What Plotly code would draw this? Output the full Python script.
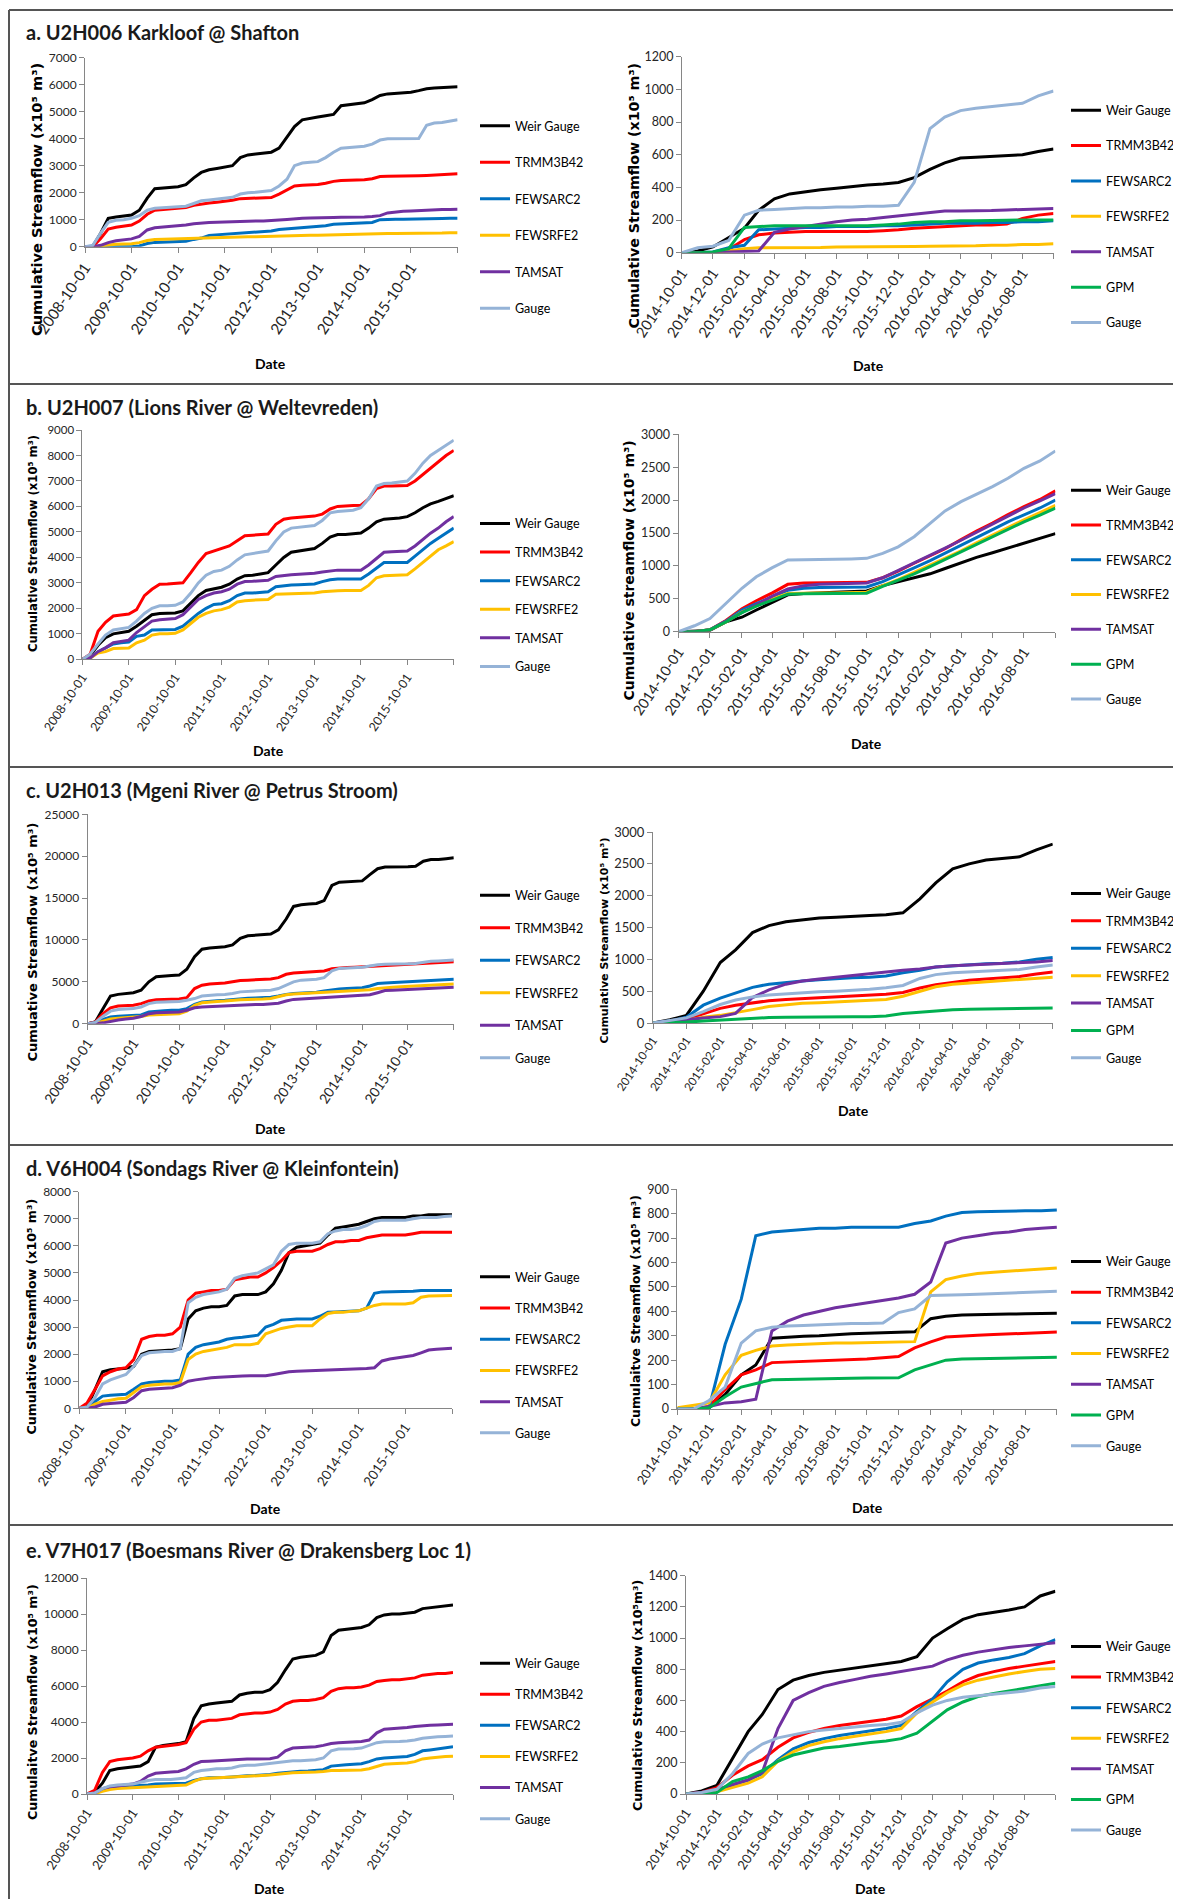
import plotly.graph_objects as go
import pandas as pd

W, H = 1181, 1899
OFF = 8  # the page body adds an 8 px margin; figure coordinates are shifted by it
FW, FH = W - OFF, H - OFF

# ---------------- categories ----------------
DATES_L = list(pd.date_range("2008-10-01", "2016-10-01", freq="2MS").strftime("%Y-%m-%d"))
DATES_R = list(pd.date_range("2014-10-01", "2016-10-01", freq="MS").strftime("%Y-%m-%d"))
X_END = "2016-10-01"

XT_L = ["2008-10-01", "2009-10-01", "2010-10-01", "2011-10-01", "2012-10-01",
        "2013-10-01", "2014-10-01", "2015-10-01"]
XT_R = ["2014-10-01", "2014-12-01", "2015-02-01", "2015-04-01", "2015-06-01", "2015-08-01",
        "2015-10-01", "2015-12-01", "2016-02-01", "2016-04-01", "2016-06-01", "2016-08-01"]

COLORS = {"Weir Gauge": "#000000", "TRMM3B42": "#FF0000", "FEWSARC2": "#0070C0",
          "FEWSRFE2": "#FFC000", "TAMSAT": "#7030A0", "GPM": "#00B050", "Gauge": "#95B3D7"}

# ---------------- a. U2H006 ----------------
A_L_WEIR = [0, 20, 500, 1050, 1100, 1130, 1170, 1350, 1800, 2150, 2180, 2200, 2220, 2300, 2550, 2750, 2850, 2900,
            2950, 3000, 3300, 3400, 3430, 3460, 3500, 3650, 4050, 4450, 4700, 4760, 4800, 4850, 4900, 5220, 5260, 5300,
            5330, 5450, 5600, 5660, 5680, 5700, 5720, 5780, 5850, 5880, 5890, 5900, 5920]
A_L_TRMM = [0, 0, 300, 650, 720, 760, 800, 950, 1200, 1350, 1380, 1400, 1420, 1450, 1530, 1580, 1620, 1650,
            1680, 1720, 1780, 1790, 1790, 1800, 1820, 1950, 2100, 2250, 2280, 2290, 2300, 2350, 2420, 2450, 2460, 2470,
            2480, 2520, 2600, 2610, 2610, 2610, 2620, 2630, 2640, 2660, 2670, 2690, 2700]
A_L_ARC2 = [0, 0, 0, 0, 0, 0, 0, 30, 120, 160, 170, 180, 190, 200, 270, 320, 420, 440,
            460, 480, 520, 540, 550, 560, 580, 640, 660, 700, 720, 730, 740, 780, 830, 840, 850, 860,
            870, 900, 1000, 1020, 1020, 1020, 1020, 1030, 1030, 1040, 1040, 1050, 1050]
A_L_RFE2 = [0, 0, 30, 70, 90, 100, 110, 150, 230, 270, 280, 290, 300, 310, 320, 330, 330, 340,
            340, 350, 360, 370, 370, 380, 380, 390, 410, 420, 420, 420, 420, 430, 440, 450, 450, 450,
            460, 470, 480, 490, 490, 490, 490, 500, 500, 510, 510, 520, 520]
A_L_TAMSAT = [0, 0, 50, 150, 220, 260, 290, 380, 620, 700, 720, 740, 760, 800, 850, 880, 900, 910,
              920, 930, 950, 950, 950, 950, 960, 990, 1010, 1040, 1050, 1060, 1060, 1070, 1080, 1090, 1090, 1100,
              1100, 1120, 1150, 1250, 1290, 1310, 1320, 1340, 1360, 1370, 1380, 1380, 1390]
A_L_GAUGE = [0, 50, 500, 900, 980, 1000, 1050, 1150, 1350, 1420, 1440, 1460, 1480, 1500, 1600, 1700, 1730, 1760,
             1780, 1830, 1950, 2000, 2020, 2040, 2080, 2250, 2500, 3000, 3100, 3130, 3150, 3300, 3500, 3650, 3680, 3700,
             3720, 3800, 3950, 4000, 4000, 4000, 4000, 4010, 4500, 4580, 4600, 4650, 4700]

A_R_WEIR = [0, 10, 35, 90, 150, 260, 330, 360, 375, 385, 395, 405, 415, 420, 430, 460, 510, 550,
            580, 585, 590, 595, 600, 620, 635]
A_R_TRMM = [0, 0, 0, 20, 80, 110, 120, 125, 130, 130, 130, 130, 130, 135, 140, 150, 155, 160,
            165, 170, 170, 175, 210, 230, 240]
A_R_ARC2 = [0, 0, 5, 30, 45, 140, 145, 150, 155, 155, 160, 160, 160, 165, 165, 170, 175, 180,
            180, 180, 185, 185, 190, 190, 195]
A_R_RFE2 = [0, 0, 0, 10, 25, 30, 30, 30, 30, 32, 35, 35, 35, 35, 35, 38, 40, 40,
            42, 42, 45, 45, 50, 50, 55]
A_R_TAMSAT = [0, 0, 0, 5, 8, 10, 125, 145, 160, 175, 190, 200, 205, 215, 225, 235, 245, 255,
              255, 255, 258, 262, 265, 268, 270]
A_R_GPM = [0, 0, 5, 25, 155, 160, 165, 165, 165, 165, 165, 165, 165, 170, 175, 185, 190, 190,
           195, 195, 195, 198, 200, 200, 200]
A_R_GAUGE = [0, 30, 40, 75, 230, 260, 265, 270, 275, 275, 280, 280, 285, 285, 290, 430, 760, 830,
             870, 885, 895, 905, 915, 960, 990]

# ---------------- b. U2H007 ----------------
B_L_WEIR = [0, 150, 550, 850, 1000, 1050, 1100, 1300, 1550, 1750, 1800, 1800, 1820, 1900, 2200, 2500, 2700, 2780,
            2830, 2950, 3150, 3280, 3300, 3350, 3400, 3700, 4000, 4200, 4250, 4300, 4350, 4550, 4800, 4900, 4900, 4930,
            4960, 5150, 5400, 5500, 5520, 5550, 5600, 5750, 5950, 6100, 6200, 6320, 6420]
B_L_TRMM = [0, 200, 1100, 1450, 1700, 1750, 1780, 1950, 2500, 2750, 2950, 2960, 2970, 3000, 3400, 3800, 4150, 4250,
            4350, 4450, 4650, 4850, 4870, 4900, 4920, 5300, 5500, 5550, 5580, 5600, 5620, 5700, 5900, 6000, 6030, 6040,
            6050, 6300, 6700, 6800, 6800, 6800, 6820, 7000, 7250, 7500, 7750, 8000, 8200]
B_L_ARC2 = [0, 50, 300, 450, 600, 650, 680, 900, 950, 1150, 1150, 1150, 1170, 1300, 1550, 1800, 2000, 2150,
            2180, 2300, 2500, 2600, 2600, 2620, 2650, 2850, 2900, 2920, 2930, 2940, 2960, 3050, 3120, 3150, 3150, 3150,
            3150, 3350, 3600, 3800, 3800, 3800, 3800, 4050, 4300, 4550, 4750, 4950, 5150]
B_L_RFE2 = [0, 50, 250, 300, 420, 430, 440, 650, 750, 950, 1000, 1000, 1020, 1150, 1400, 1650, 1800, 1900,
            1950, 2050, 2250, 2300, 2320, 2330, 2350, 2550, 2560, 2570, 2580, 2590, 2600, 2650, 2680, 2690, 2700, 2700,
            2700, 2900, 3200, 3280, 3300, 3300, 3320, 3550, 3800, 4050, 4300, 4450, 4620]
B_L_TAMSAT = [0, 50, 300, 450, 650, 700, 750, 1050, 1300, 1500, 1550, 1580, 1600, 1750, 2050, 2350, 2500, 2600,
              2650, 2750, 2950, 3050, 3060, 3080, 3100, 3250, 3300, 3320, 3340, 3350, 3380, 3430, 3480, 3500, 3500, 3500,
              3500, 3700, 3950, 4200, 4220, 4230, 4250, 4450, 4700, 4950, 5150, 5400, 5600]
B_L_GAUGE = [0, 200, 600, 950, 1150, 1200, 1250, 1500, 1800, 2000, 2100, 2100, 2120, 2250, 2600, 3000, 3300, 3450,
             3500, 3650, 3900, 4100, 4150, 4180, 4250, 4650, 5000, 5150, 5180, 5200, 5250, 5450, 5750, 5800, 5820, 5850,
             5950, 6300, 6800, 6900, 6920, 6950, 7000, 7300, 7700, 8000, 8200, 8400, 8600]

B_R_WEIR = [0, 10, 20, 150, 220, 330, 450, 560, 580, 590, 600, 610, 620, 700, 760, 820, 880, 960,
            1050, 1130, 1200, 1270, 1350, 1420, 1490]
B_R_TRMM = [0, 0, 30, 170, 350, 470, 590, 720, 740, 740, 745, 750, 750, 820, 920, 1040, 1160, 1260,
            1400, 1530, 1650, 1780, 1900, 2010, 2140]
B_R_ARC2 = [0, 0, 30, 160, 330, 430, 530, 630, 660, 670, 670, 675, 680, 760, 860, 970, 1080, 1190,
            1310, 1430, 1550, 1670, 1780, 1880, 2000]
B_R_RFE2 = [0, 0, 30, 150, 300, 400, 500, 580, 590, 590, 590, 595, 600, 700, 790, 900, 1010, 1120,
            1230, 1350, 1470, 1590, 1700, 1810, 1920]
B_R_TAMSAT = [0, 0, 30, 160, 300, 420, 540, 650, 700, 720, 730, 735, 740, 820, 930, 1050, 1160, 1270,
              1390, 1510, 1630, 1760, 1880, 1990, 2100]
B_R_GPM = [0, 0, 30, 150, 290, 390, 480, 570, 575, 575, 575, 580, 585, 690, 780, 880, 990, 1100,
           1210, 1330, 1440, 1560, 1670, 1770, 1880]
B_R_GAUGE = [0, 90, 200, 430, 660, 835, 973, 1090, 1090, 1095, 1100, 1105, 1115, 1190, 1290, 1444, 1647, 1835,
             1977, 2088, 2205, 2331, 2483, 2595, 2747]

# ---------------- c. U2H013 ----------------
C_L_WEIR = [0, 200, 1800, 3300, 3500, 3600, 3700, 4000, 5000, 5600, 5700, 5750, 5800, 6500, 8000, 8900, 9050, 9150,
            9200, 9400, 10200, 10500, 10550, 10600, 10700, 11200, 12500, 14000, 14200, 14300, 14350, 14700, 16500,
            16900, 16950, 17000, 17050, 17800, 18500, 18700, 18700, 18750, 18750, 18800, 19400, 19600, 19600, 19700,
            19800]
C_L_TRMM = [0, 200, 1200, 1900, 2100, 2150, 2200, 2400, 2700, 2850, 2900, 2950, 2950, 3100, 4200, 4600, 4750, 4800,
            4850, 5000, 5150, 5200, 5250, 5300, 5350, 5500, 5900, 6050, 6100, 6150, 6200, 6300, 6550, 6650, 6700, 6750,
            6800, 6850, 6950, 7000, 7000, 7050, 7100, 7150, 7200, 7250, 7300, 7350, 7400]
C_L_ARC2 = [0, 100, 500, 800, 900, 950, 1000, 1050, 1400, 1500, 1550, 1600, 1600, 1800, 2300, 2600, 2700, 2750,
            2800, 2900, 3000, 3050, 3080, 3100, 3150, 3300, 3500, 3600, 3650, 3700, 3750, 3900, 4050, 4150, 4200, 4250,
            4300, 4500, 4800, 4850, 4900, 4950, 5000, 5050, 5100, 5150, 5200, 5250, 5300]
C_L_RFE2 = [0, 50, 300, 550, 650, 700, 750, 850, 1050, 1100, 1150, 1150, 1200, 1500, 2200, 2500, 2600, 2650,
            2700, 2800, 2850, 2900, 2900, 2950, 3000, 3200, 3450, 3550, 3600, 3650, 3700, 3750, 3800, 3850, 3900, 3900,
            3950, 4050, 4200, 4300, 4350, 4400, 4450, 4500, 4550, 4600, 4650, 4700, 4750]
C_L_TAMSAT = [0, 0, 100, 300, 450, 550, 650, 850, 1200, 1300, 1350, 1400, 1400, 1600, 1900, 2000, 2050, 2100,
              2150, 2200, 2250, 2250, 2300, 2300, 2350, 2450, 2700, 2900, 2950, 3000, 3050, 3150, 3200, 3250, 3300, 3350,
              3400, 3450, 3700, 3950, 4000, 4050, 4100, 4150, 4200, 4250, 4300, 4300, 4350]
C_L_GAUGE = [0, 150, 900, 1500, 1700, 1750, 1800, 2000, 2400, 2550, 2600, 2620, 2650, 2800, 3000, 3300, 3400, 3450,
             3500, 3600, 3800, 3850, 3900, 3950, 4000, 4200, 4600, 5000, 5200, 5250, 5300, 5500, 6300, 6600, 6650, 6700,
             6750, 6900, 7050, 7100, 7100, 7150, 7150, 7200, 7350, 7450, 7500, 7550, 7600]

C_R_WEIR = [0, 50, 120, 500, 950, 1150, 1420, 1530, 1590, 1620, 1650, 1660, 1680, 1690, 1700, 1730, 1950, 2200,
            2420, 2500, 2560, 2590, 2610, 2720, 2810]
C_R_TRMM = [0, 20, 60, 150, 230, 280, 320, 350, 370, 385, 400, 415, 425, 435, 450, 480, 550, 600,
            640, 670, 690, 710, 730, 770, 800]
C_R_ARC2 = [0, 30, 90, 280, 390, 470, 560, 610, 640, 660, 680, 700, 710, 720, 740, 790, 830, 880,
            900, 920, 930, 940, 960, 1000, 1030]
C_R_RFE2 = [0, 10, 40, 90, 120, 160, 210, 260, 290, 310, 320, 330, 340, 355, 370, 420, 500, 570,
            610, 630, 650, 670, 690, 710, 720]
C_R_TAMSAT = [0, 30, 60, 80, 100, 150, 400, 520, 610, 660, 690, 720, 750, 780, 800, 830, 850, 880,
              900, 910, 920, 930, 940, 960, 980]
C_R_GPM = [0, 5, 15, 30, 45, 60, 75, 85, 90, 95, 95, 100, 100, 100, 110, 150, 170, 200,
           210, 215, 220, 225, 230, 230, 235]
C_R_GAUGE = [0, 40, 80, 180, 290, 360, 410, 440, 460, 475, 490, 500, 510, 530, 555, 590, 700, 760,
             790, 800, 810, 820, 840, 880, 910]

# ---------------- d. V6H004 ----------------
D_L_WEIR = [0, 50, 700, 1350, 1420, 1450, 1480, 1550, 2000, 2100, 2120, 2150, 2150, 2200, 3300, 3600, 3700, 3750,
            3750, 3800, 4150, 4200, 4200, 4200, 4300, 4600, 5100, 5750, 5950, 6000, 6050, 6100, 6400, 6650, 6700, 6750,
            6800, 6900, 7000, 7050, 7050, 7050, 7050, 7100, 7100, 7150, 7150, 7150, 7150]
D_L_TRMM = [0, 200, 700, 1200, 1350, 1450, 1500, 1800, 2550, 2650, 2700, 2700, 2750, 3000, 4000, 4250, 4300, 4350,
            4350, 4400, 4750, 4800, 4850, 4850, 5000, 5200, 5450, 5750, 5800, 5800, 5800, 5900, 6050, 6150, 6150, 6200,
            6200, 6300, 6350, 6400, 6400, 6400, 6400, 6450, 6500, 6500, 6500, 6500, 6500]
D_L_ARC2 = [0, 0, 250, 450, 480, 500, 520, 700, 900, 950, 980, 1000, 1000, 1050, 2000, 2250, 2350, 2400,
            2450, 2550, 2600, 2620, 2650, 2700, 3000, 3100, 3250, 3280, 3300, 3300, 3300, 3400, 3550, 3560, 3570, 3580,
            3600, 3700, 4250, 4300, 4300, 4300, 4300, 4320, 4350, 4350, 4350, 4350, 4350]
D_L_RFE2 = [0, 0, 150, 250, 300, 350, 370, 600, 800, 850, 880, 900, 900, 950, 1800, 2000, 2100, 2150,
            2200, 2250, 2350, 2350, 2350, 2400, 2750, 2850, 2950, 3000, 3050, 3050, 3050, 3300, 3500, 3550, 3550, 3580,
            3600, 3700, 3800, 3850, 3850, 3850, 3850, 3900, 4100, 4150, 4150, 4150, 4170]
D_L_TAMSAT = [0, 0, 50, 150, 180, 200, 220, 400, 650, 700, 720, 750, 760, 850, 1000, 1050, 1100, 1130,
              1150, 1170, 1180, 1190, 1200, 1200, 1200, 1250, 1300, 1350, 1370, 1380, 1390, 1400, 1420, 1440, 1440, 1450,
              1450, 1470, 1500, 1750, 1820, 1860, 1900, 1950, 2050, 2150, 2180, 2200, 2220]
D_L_GAUGE = [0, 50, 400, 900, 1050, 1150, 1250, 1550, 1950, 2050, 2080, 2100, 2100, 2200, 3900, 4100, 4200, 4250,
             4300, 4400, 4800, 4900, 4950, 5000, 5150, 5300, 5800, 6050, 6100, 6100, 6100, 6150, 6450, 6550, 6600, 6600,
             6650, 6750, 6900, 6950, 6950, 6950, 6950, 7000, 7050, 7050, 7050, 7080, 7100]

D_R_WEIR = [0, 0, 5, 60, 140, 180, 290, 295, 298, 300, 305, 308, 310, 312, 315, 316, 370, 380,
            385, 387, 388, 389, 390, 391, 392]
D_R_TRMM = [0, 0, 10, 80, 140, 160, 190, 192, 195, 197, 200, 202, 205, 210, 215, 250, 275, 295,
            300, 302, 305, 307, 312, 314, 315]
D_R_ARC2 = [0, 0, 5, 265, 450, 710, 725, 730, 735, 740, 740, 745, 745, 745, 745, 760, 770, 790,
            805, 808, 810, 810, 812, 812, 815]
D_R_RFE2 = [5, 15, 25, 140, 220, 240, 258, 262, 265, 268, 270, 270, 272, 272, 275, 276, 480, 530,
            545, 555, 560, 565, 570, 575, 578]
D_R_TAMSAT = [0, 0, 10, 25, 30, 40, 320, 360, 385, 400, 415, 425, 435, 445, 455, 470, 520, 680,
              700, 710, 720, 725, 735, 740, 745]
D_R_GPM = [0, 0, 5, 50, 90, 105, 120, 121, 123, 124, 125, 126, 127, 128, 128, 160, 180, 200,
           205, 206, 207, 208, 210, 211, 212]
D_R_GAUGE = [0, 0, 35, 90, 270, 320, 335, 340, 342, 345, 348, 350, 350, 352, 395, 410, 465, 465,
             468, 470, 472, 475, 478, 480, 482]

# ---------------- e. V7H017 ----------------
E_L_WEIR = [0, 100, 600, 1300, 1400, 1450, 1500, 1550, 1800, 2600, 2700, 2750, 2800, 2900, 4200, 4900, 5000, 5050,
            5100, 5150, 5500, 5600, 5650, 5650, 5800, 6200, 6900, 7500, 7600, 7650, 7700, 7900, 8800, 9100, 9150, 9200,
            9250, 9400, 9800, 9950, 10000, 10000, 10050, 10100, 10300, 10350, 10400, 10450, 10500]
E_L_TRMM = [0, 200, 1200, 1800, 1900, 1950, 2000, 2100, 2400, 2600, 2650, 2700, 2750, 2850, 3600, 4000, 4100, 4100,
            4150, 4200, 4400, 4450, 4500, 4500, 4550, 4700, 5000, 5150, 5200, 5200, 5250, 5350, 5700, 5850, 5900, 5900,
            5950, 6050, 6250, 6300, 6350, 6350, 6400, 6450, 6600, 6650, 6700, 6700, 6750]
E_L_ARC2 = [0, 30, 200, 350, 400, 420, 430, 450, 500, 550, 560, 560, 570, 600, 750, 850, 900, 900,
            920, 950, 1000, 1020, 1030, 1050, 1080, 1150, 1200, 1250, 1260, 1280, 1300, 1350, 1550, 1600, 1620, 1650,
            1680, 1800, 1950, 2000, 2020, 2050, 2080, 2200, 2400, 2450, 2500, 2550, 2620]
E_L_RFE2 = [0, 20, 150, 250, 300, 320, 330, 350, 400, 420, 430, 440, 450, 500, 700, 850, 880, 900,
            900, 920, 950, 980, 1000, 1000, 1050, 1100, 1150, 1180, 1200, 1200, 1220, 1250, 1300, 1300, 1300, 1320,
            1330, 1400, 1550, 1650, 1680, 1700, 1720, 1800, 1950, 2000, 2050, 2080, 2100]
E_L_TAMSAT = [0, 50, 300, 400, 450, 500, 550, 700, 1000, 1150, 1200, 1220, 1250, 1400, 1650, 1800, 1820, 1850,
              1850, 1900, 1920, 1950, 1950, 1950, 1960, 2050, 2400, 2550, 2580, 2600, 2620, 2700, 2800, 2850, 2880, 2900,
              2920, 3000, 3400, 3600, 3620, 3650, 3700, 3750, 3800, 3820, 3840, 3850, 3870]
E_L_GAUGE = [0, 50, 300, 450, 500, 530, 550, 650, 750, 800, 800, 800, 850, 900, 1200, 1300, 1350, 1400,
             1400, 1450, 1550, 1600, 1600, 1650, 1680, 1750, 1800, 1850, 1850, 1880, 1900, 2000, 2400, 2500, 2500, 2520,
             2550, 2700, 2850, 2900, 2900, 2920, 2950, 3000, 3100, 3150, 3180, 3200, 3220]

E_R_WEIR = [0, 20, 55, 230, 400, 510, 670, 730, 760, 780, 795, 810, 820, 835, 850, 880, 1000, 1060,
            1120, 1150, 1165, 1180, 1200, 1270, 1300]
E_R_TRMM = [0, 10, 40, 120, 180, 220, 300, 360, 395, 420, 440, 455, 465, 480, 500, 560, 610, 660,
            720, 760, 785, 805, 820, 835, 850]
E_R_ARC2 = [0, 5, 20, 60, 90, 130, 220, 290, 330, 355, 375, 390, 405, 420, 440, 530, 610, 720,
            800, 840, 860, 875, 900, 950, 990]
E_R_RFE2 = [0, 5, 15, 40, 70, 110, 210, 270, 310, 335, 355, 370, 385, 400, 420, 520, 590, 650,
            700, 730, 750, 770, 785, 800, 805]
E_R_TAMSAT = [0, 10, 30, 60, 90, 140, 420, 600, 650, 690, 715, 735, 755, 770, 785, 805, 820, 860,
              890, 910, 925, 940, 950, 960, 970]
E_R_GPM = [0, 5, 10, 80, 110, 150, 210, 250, 275, 295, 305, 320, 330, 340, 355, 390, 470, 540,
           590, 625, 645, 660, 675, 695, 710]
E_R_GAUGE = [0, 10, 30, 130, 260, 320, 360, 380, 400, 410, 420, 430, 440, 445, 460, 520, 570, 600,
             620, 630, 640, 650, 660, 680, 690]

# y tick labels
YT_A_L = [0, 1000, 2000, 3000, 4000, 5000, 6000, 7000]
YT_A_R = [0, 200, 400, 600, 800, 1000, 1200]
YT_B_L = [0, 1000, 2000, 3000, 4000, 5000, 6000, 7000, 8000, 9000]
YT_B_R = [0, 500, 1000, 1500, 2000, 2500, 3000]
YT_C_L = [0, 5000, 10000, 15000, 20000, 25000]
YT_C_R = [0, 500, 1000, 1500, 2000, 2500, 3000]
YT_D_L = [0, 1000, 2000, 3000, 4000, 5000, 6000, 7000, 8000]
YT_D_R = [0, 100, 200, 300, 400, 500, 600, 700, 800, 900]
YT_E_L = [0, 2000, 4000, 6000, 8000, 10000, 12000]
YT_E_R = [0, 200, 400, 600, 800, 1000, 1200, 1400]

UNIT = " (x10⁵ m³)"
TITLES = [("a. U2H006 Karkloof @ Shafton", 32), ("b. U2H007 (Lions River @ Weltevreden)", 407),
          ("c. U2H013 (Mgeni River @ Petrus Stroom)", 790), ("d. V6H004 (Sondags River @ Kleinfontein)", 1168),
          ("e. V7H017 (Boesmans River @ Drakensberg Loc 1)", 1550)]


def L(w, t, a, r, f, ta, g=None):
    return [("Weir Gauge", w), ("TRMM3B42", t), ("FEWSARC2", a), ("FEWSRFE2", r), ("TAMSAT", ta)] + \
        ([("GPM", g)] if g is not None else []) + [("Gauge", f)]


# positions below are page pixels measured on the reference
SUBPLOTS = [
    dict(d=DATES_L, s=L(A_L_WEIR, A_L_TRMM, A_L_ARC2, A_L_RFE2, A_L_GAUGE, A_L_TAMSAT), yt=YT_A_L, xt=XT_L,
         ytitle="Cumulative Streamflow" + UNIT, yts=14.6, xts=15.2, yls=12, box=(85, 457.6, 57.7, 246.7),
         leg=(126.7, 36.5), date=(270, 363), ytp=(36, 200)),
    dict(d=DATES_R, s=L(A_R_WEIR, A_R_TRMM, A_R_ARC2, A_R_RFE2, A_R_GAUGE, A_R_TAMSAT, A_R_GPM), yt=YT_A_R, xt=XT_R,
         ytitle="Cumulative Streamflow" + UNIT, yts=14.2, xts=14.7, yls=12.5, box=(681.9, 1053.5, 56.7, 252.7),
         leg=(111, 35.4), date=(868, 365), ytp=(633.5, 196)),
    dict(d=DATES_L, s=L(B_L_WEIR, B_L_TRMM, B_L_ARC2, B_L_RFE2, B_L_GAUGE, B_L_TAMSAT), yt=YT_B_L, xt=XT_L,
         ytitle="Cumulative Streamflow" + UNIT, yts=11.6, xts=12.3, yls=11.5, box=(82.4, 453.8, 430, 659.3),
         leg=(524.3, 28.6), date=(268, 750), ytp=(33, 544)),
    dict(d=DATES_R, s=L(B_R_WEIR, B_R_TRMM, B_R_ARC2, B_R_RFE2, B_R_GAUGE, B_R_TAMSAT, B_R_GPM), yt=YT_B_R, xt=XT_R,
         ytitle="Cumulative streamflow" + UNIT, yts=14.0, xts=14.5, yls=12.5, box=(678.5, 1055.4, 434.3, 631.7),
         leg=(491, 34.8), date=(866, 743), ytp=(628.6, 571)),
    dict(d=DATES_L, s=L(C_L_WEIR, C_L_TRMM, C_L_ARC2, C_L_RFE2, C_L_GAUGE, C_L_TAMSAT), yt=YT_C_L, xt=XT_L,
         ytitle="Cumuative Streamflow" + UNIT, yts=13.0, xts=13.8, yls=12, box=(87.7, 453.8, 814.3, 1023.7),
         leg=(896, 32.5), date=(270, 1128), ytp=(32, 942.5)),
    dict(d=DATES_R, s=L(C_R_WEIR, C_R_TRMM, C_R_ARC2, C_R_RFE2, C_R_GAUGE, C_R_TAMSAT, C_R_GPM), yt=YT_C_R, xt=XT_R,
         ytitle="Cumulative Streamflow" + UNIT, yts=11.0, xts=11.6, yls=13, box=(653, 1052.8, 832, 1023),
         leg=(894.3, 27.4), date=(853, 1110), ytp=(603.5, 941)),
    dict(d=DATES_L, s=L(D_L_WEIR, D_L_TRMM, D_L_ARC2, D_L_RFE2, D_L_GAUGE, D_L_TAMSAT), yt=YT_D_L, xt=XT_L,
         ytitle="Cumulative Streamflow" + UNIT, yts=12.6, xts=13.4, yls=12, box=(79.4, 452, 1191.7, 1408.3),
         leg=(1277.7, 31.2), date=(265.5, 1508), ytp=(31, 1316.5)),
    dict(d=DATES_R, s=L(D_R_WEIR, D_R_TRMM, D_R_ARC2, D_R_RFE2, D_R_GAUGE, D_R_TAMSAT, D_R_GPM), yt=YT_D_R, xt=XT_R,
         ytitle="Cumulaitve Streamflow" + UNIT, yts=12.4, xts=13.0, yls=12.5, box=(677.4, 1056.9, 1189.3, 1409),
         leg=(1262.3, 30.7), date=(867, 1507), ytp=(635, 1311)),
    dict(d=DATES_L, s=L(E_L_WEIR, E_L_TRMM, E_L_ARC2, E_L_RFE2, E_L_GAUGE, E_L_TAMSAT), yt=YT_E_L, xt=XT_L,
         ytitle="Cumulaitve Streamflow" + UNIT, yts=12.6, xts=13.0, yls=12, box=(87, 453, 1578, 1794),
         leg=(1664, 31.1), date=(269, 1888), ytp=(32, 1702)),
    dict(d=DATES_R, s=L(E_R_WEIR, E_R_TRMM, E_R_ARC2, E_R_RFE2, E_R_GAUGE, E_R_TAMSAT, E_R_GPM), yt=YT_E_R, xt=XT_R,
         ytitle="Cumulative Streamflow (x10⁵m³)", yts=12.6, xts=13.0, yls=12.5, box=(686, 1055.4, 1575.7, 1794),
         leg=(1647.3, 30.6), date=(870, 1888), ytp=(637, 1696)),
]

LEG_TEXT_X = {0: 515, 1: 1106}  # page x of legend text start (left column, right column)

FONT = "Lato, Roboto, sans-serif"
AXIS_GRAY = "#868686"
LEG_SIZE = 12.5
LEG_ITEM_H = max(LEG_SIZE * 1.3, 16) + 3


def px(x):
    return (x - OFF) / FW


def py(y):
    return 1 - (y - OFF) / FH


fig = go.Figure()
layout = dict(width=FW, height=FH, margin=dict(l=0, r=0, t=0, b=0, autoexpand=False), paper_bgcolor="white",
              plot_bgcolor="white", showlegend=True, annotations=[], shapes=[])

for i, sp in enumerate(SUBPLOTS, start=1):
    xa, ya = ("x" if i == 1 else f"x{i}"), ("y" if i == 1 else f"y{i}")
    lg = "legend" if i == 1 else f"legend{i}"
    x0, x1, ytop, ybot = sp["box"]
    for name, vals in sp["s"]:
        fig.add_trace(go.Scatter(x=sp["d"], y=vals, mode="lines", name=name,
                                 line=dict(color=COLORS[name], width=3),
                                 xaxis=xa, yaxis=ya, legend=lg, legendgroup=f"{i}-{name}"))
    layout["xaxis" if i == 1 else f"xaxis{i}"] = dict(
        domain=[px(x0), px(x1)], anchor=ya, type="date", range=[sp["d"][0], X_END],
        tickvals=sp["xt"], ticktext=sp["xt"], tickangle=-56,
        tickfont=dict(family=FONT, size=sp["xts"], color="#262626"),
        minor=dict(tickvals=[X_END], ticks="outside", ticklen=5, tickcolor=AXIS_GRAY, showgrid=False),
        showline=True, linecolor=AXIS_GRAY, linewidth=1, ticks="outside", ticklen=5,
        tickcolor=AXIS_GRAY, showgrid=False, zeroline=False)
    layout["yaxis" if i == 1 else f"yaxis{i}"] = dict(
        domain=[py(ybot), py(ytop)], anchor=xa, range=[0, sp["yt"][-1]],
        tickvals=sp["yt"], ticktext=[str(v) for v in sp["yt"]],
        tickfont=dict(family=FONT, size=sp["yls"], color="#262626"),
        showline=True, linecolor=AXIS_GRAY, linewidth=1, ticks="outside", ticklen=5,
        tickcolor=AXIS_GRAY, showgrid=False, zeroline=False)
    ly, sp_gap = sp["leg"]
    text_x = LEG_TEXT_X[(i - 1) % 2]
    layout[lg] = dict(x=px(text_x - 40), y=py(ly - 15.5), xanchor="left", yanchor="top",
                      bgcolor="rgba(0,0,0,0)", borderwidth=0, traceorder="grouped",
                      tracegroupgap=max(sp_gap - LEG_ITEM_H, 0), itemwidth=30,
                      font=dict(family=FONT, size=LEG_SIZE, color="#000000"))
    dx, dy = sp["date"]
    layout["annotations"].append(dict(text="Date", x=px(dx), y=py(dy), xref="paper", yref="paper",
                                      showarrow=False, xanchor="center", yanchor="middle",
                                      font=dict(family=FONT, size=14, color="#000000", weight="bold")))
    tx, ty = sp["ytp"]
    layout["annotations"].append(dict(text=sp["ytitle"], x=px(tx), y=py(ty), xref="paper", yref="paper",
                                      showarrow=False, textangle=-90, xanchor="center", yanchor="middle",
                                      font=dict(family="DejaVu Sans", size=sp["yts"], color="#000000",
                                                weight="bold")))

for text, ty in TITLES:
    layout["annotations"].append(dict(text=text, x=px(24), y=py(ty), xref="paper", yref="paper",
                                      showarrow=False, xanchor="left", yanchor="middle",
                                      font=dict(family=FONT, size=20, color="#1a1a1a", weight="bold")))

# panel frames
for yb in [10, 384, 767, 1145, 1525]:
    layout["shapes"].append(dict(type="line", xref="paper", yref="paper", x0=px(9), x1=1,
                                 y0=py(yb), y1=py(yb), line=dict(color="#555555", width=2)))
layout["shapes"].append(dict(type="line", xref="paper", yref="paper", x0=px(9), x1=px(9),
                             y0=py(10), y1=0, line=dict(color="#555555", width=2)))

fig.update_layout(**layout)
fig.write_html("out.html")
